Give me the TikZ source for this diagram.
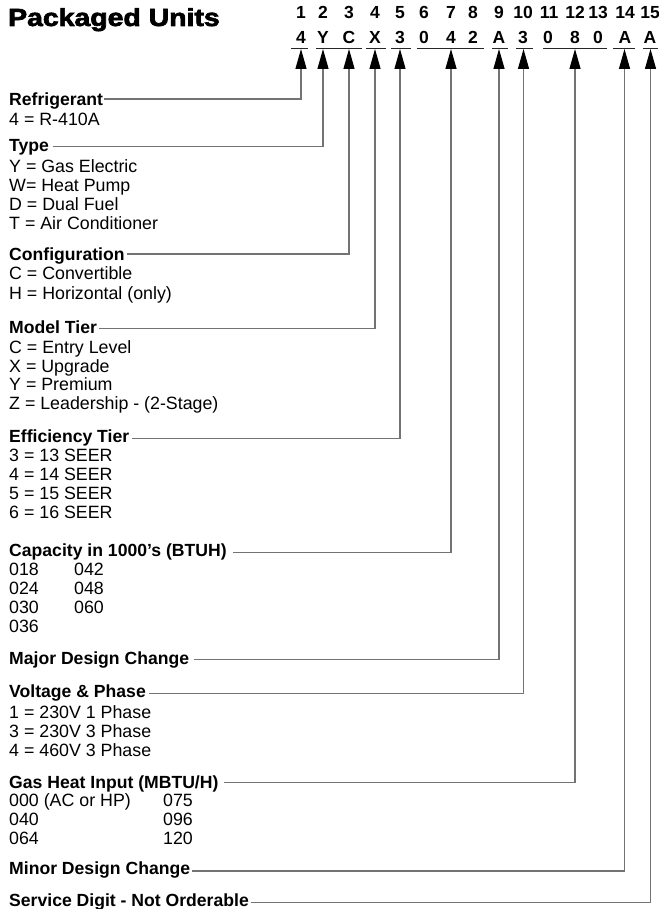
\documentclass[tikz,border=0pt]{standalone}
\usepackage{fontspec}
\setmainfont{Liberation Sans}
\newfontfamily\heavyfont[FakeBold=2.5]{Liberation Sans Bold}
\usetikzlibrary{arrows.meta}
\begin{document}
\begin{tikzpicture}[x=1pt,y=-1pt,
  head/.style={anchor=west, inner sep=0pt, font=\fontsize{17.6}{19}\selectfont\bfseries, text height=#1, text depth=4pt},
  body/.style={anchor=base west, inner sep=0pt, font=\fontsize{17.8}{19}\selectfont},
  digit/.style={anchor=base, inner sep=0pt, font=\fontsize{17.5}{18}\selectfont\bfseries},
  conn/.style={draw=black!55, line width=1.2pt, -{Triangle[length=20pt,width=11pt,color=black]}},
  uline/.style={draw=black!85, line width=1pt}]
\useasboundingbox (0,0) rectangle (658,909);
% title
\node[anchor=base west, inner sep=0pt, font=\heavyfont\fontsize{24.7}{26}\selectfont] (title) at (8,26) {\scalebox{1.15}[1]{Packaged Units}};
% position numbers and code
\foreach \x/\n [count=\i] in {301/1,323/2,349/3,375/4,400/5,424/6,451/7,473/8,499/9,523/10,549/11,575/12,598/13,625/14,650/15}
  \node[digit] (p\i) at (\x,18.3) {\n};
\foreach \x/\n [count=\i] in {301/4,323/Y,349/C,375/X,400/3,424/0,451/4,473/2,499/A,523/3,548/0,575/8,598/0,625/A,650/A}
  \node[digit] (c\i) at (\x,44) {\n};
% underlines
\foreach \a/\b in {291/308,316/362,366/386,391/411,417/484,492/508,516/533,543/607,613/635,643/658}
  \draw[uline] (\a,49) -- (\b,49);
% arrow targets
\coordinate (a1) at (301,49);
\coordinate (a2) at (323,49);
\coordinate (a3) at (349,49);
\coordinate (a4) at (375,49);
\coordinate (a5) at (400,49);
\coordinate (a6) at (451,49);
\coordinate (a9) at (499,49);
\coordinate (a10) at (523.5,49);
\coordinate (a11) at (575,49);
\coordinate (a14) at (624.5,49);
\coordinate (a15) at (650.5,49);
% Refrigerant
\node[head=18pt] (ref) at (9,99) {Refrigerant};
\node[body] (ref0) at (9,125.5) {4 = R-410A};
\draw[conn, shorten <=1pt] (ref) -| (a1);
% Type
\node[head=14pt] (type) at (9,146.7) {Type};
\foreach \t [count=\i from 0] in {Y = Gas Electric, W= Heat Pump, D = Dual Fuel, T = Air Conditioner}
  \node[body] (type\i) at (9,172.3+19*\i) {\t};
\draw[conn, shorten <=4pt] (type) -| (a2);
% Configuration
\node[head=16pt] (conf) at (9,254) {Configuration};
\foreach \t [count=\i from 0] in {C = Convertible, H = Horizontal (only)}
  \node[body] (conf\i) at (9,279.3+19.7*\i) {\t};
\draw[conn, shorten <=2pt] (conf) -| (a3);
% Model Tier
\node[head=14pt] (tier) at (9,328.3) {Model Tier};
\foreach \t [count=\i from 0] in {C = Entry Level, X = Upgrade, Y = Premium, Z = Leadership - (2-Stage)}
  \node[body] (tier\i) at (9,353.3+18.7*\i) {\t};
\draw[conn, shorten <=2pt] (tier) -| (a4);
% Efficiency Tier
\node[head=12.4pt] (eff) at (9,438.5) {Efficiency Tier};
\foreach \t [count=\i from 0] in {3 = 13 SEER, 4 = 14 SEER, 5 = 15 SEER, 6 = 16 SEER}
  \node[body] (eff\i) at (9,461.7+19*\i) {\t};
\draw[conn, shorten <=3pt] (eff) -| (a5);
% Capacity
\node[head=10.6pt] (cap) at (9,552.7) {Capacity in 1000’s (BTUH)};
\foreach \t [count=\i from 0] in {018, 024, 030, 036}
  \node[body] (capa\i) at (9,575+19.2*\i) {\t};
\foreach \t [count=\i from 0] in {042, 048, 060}
  \node[body] (capb\i) at (74,575+19.2*\i) {\t};
\draw[conn, shorten <=6pt] (cap) -| (a6);
% Major Design Change
\node[head=14pt] (major) at (9,659.3) {Major Design Change};
\draw[conn, shorten <=5pt] (major) -| (a9);
% Voltage & Phase
\node[head=12.4pt] (volt) at (9,693.5) {Voltage \& Phase};
\foreach \t [count=\i from 0] in {1 = 230V 1 Phase, 3 = 230V 3 Phase, 4 = 460V 3 Phase}
  \node[body] (volt\i) at (9,718.3+19.2*\i) {\t};
\draw[conn, shorten <=3pt] (volt) -| (a10);
% Gas Heat Input
\node[head=16.8pt] (gas) at (9,782.3) {Gas Heat Input (MBTU/H)};
\foreach \t [count=\i from 0] in {000 (AC or HP), 040, 064}
  \node[body] (gasa\i) at (9,806+19*\i) {\t};
\foreach \t [count=\i from 0] in {075, 096, 120}
  \node[body] (gasb\i) at (163,806+19*\i) {\t};
\draw[conn, shorten <=5pt] (gas) -| (a11);
% Minor Design Change
\node[head=10.6pt] (minor) at (9,871) {Minor Design Change};
\draw[conn, shorten <=2pt] (minor) -| (a14);
% Service Digit
\node[head=11pt] (serv) at (9,902.5) {Service Digit - Not Orderable};
\draw[conn, shorten <=2pt] (serv) -| (a15);
\end{tikzpicture}
\end{document}
